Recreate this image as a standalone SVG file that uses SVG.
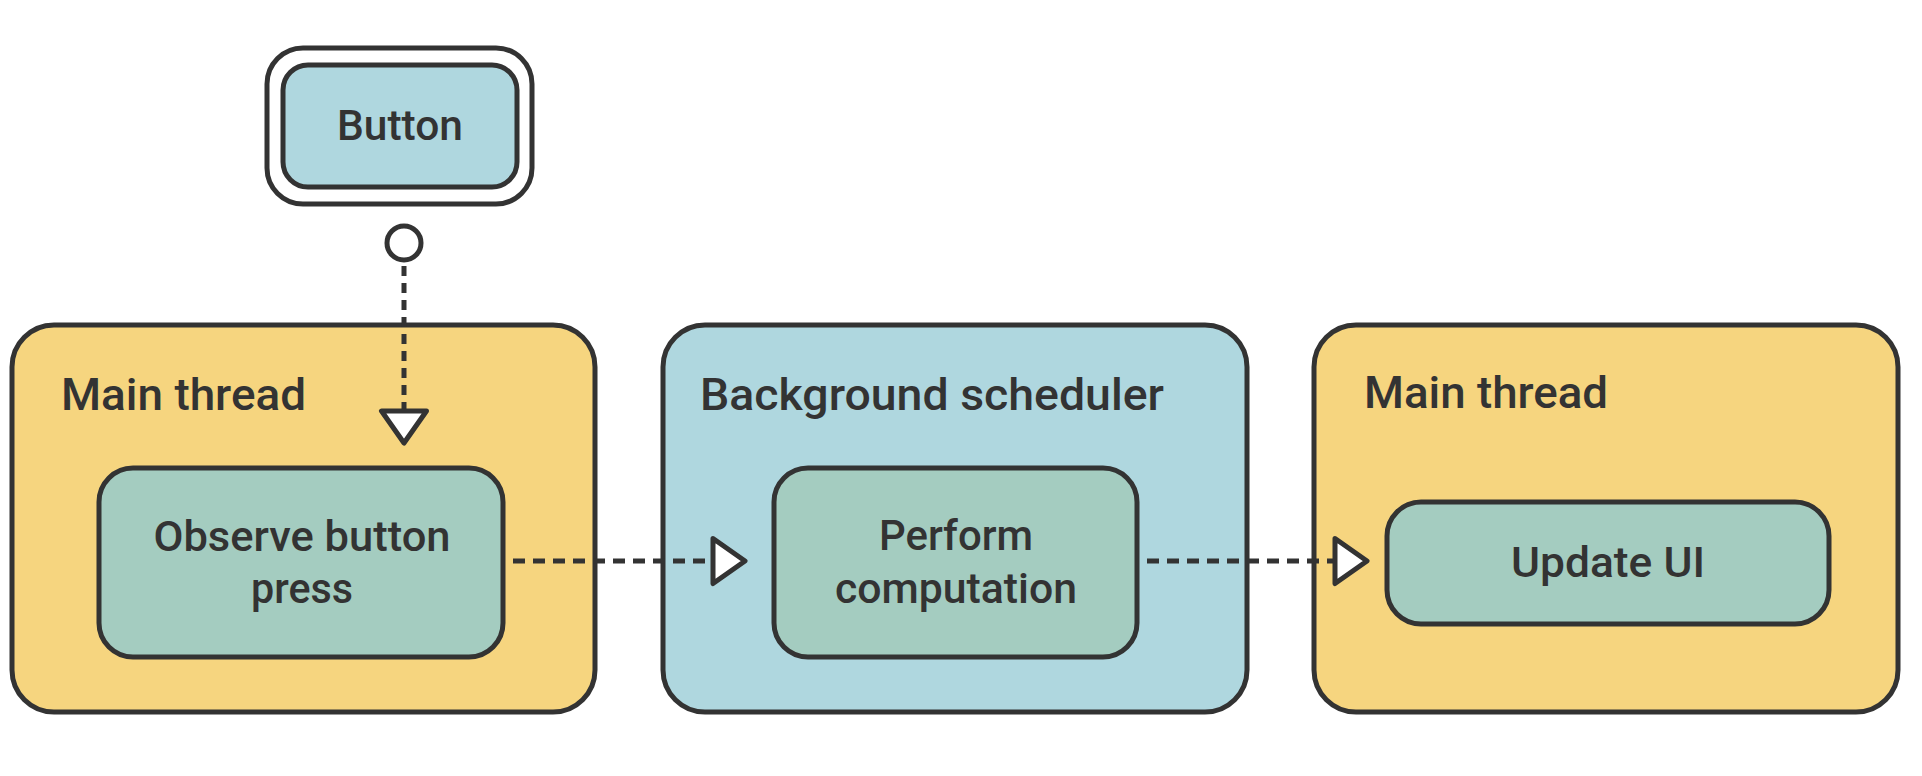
<svg xmlns="http://www.w3.org/2000/svg" width="1922" height="776" viewBox="0 0 1922 776">
  <style>
    .box { stroke: #333333; stroke-width: 5; }
    .yellow { fill: #F6D57F; }
    .blue { fill: #AFD7DF; }
    .green { fill: #A4CCC0; }
    .title { font-family: Roboto, "Noto Sans", sans-serif; font-size: 45px; font-weight: 500; fill: #333333; }
    .label { font-family: Roboto, "Noto Sans", sans-serif; font-size: 42px; font-weight: 500; fill: #333333; text-anchor: middle; }
    .conn { fill: none; stroke: #333333; stroke-width: 5; }
    .h { stroke-dasharray: 12 8; }
    .v { stroke-dasharray: 10 7; }
  </style>
  <defs>
    <marker id="tri" markerUnits="userSpaceOnUse" viewBox="-4 -28 40 56" markerWidth="40" markerHeight="56" refX="32" refY="0" orient="auto" overflow="visible">
      <path d="M0,-22.5 L32,0 L0,22.5 Z" fill="#ffffff" stroke="#333333" stroke-width="5" stroke-linejoin="round"/>
    </marker>
  </defs>
  <rect width="1922" height="776" fill="#ffffff"/>

  <g id="button">
    <rect x="267" y="48" width="265" height="156" rx="36" fill="#ffffff" class="box"/>
    <rect x="283" y="65" width="234" height="122" rx="25" class="box blue"/>
    <text x="400" y="140" class="label" textLength="126" lengthAdjust="spacingAndGlyphs">Button</text>
  </g>

  <g id="main-thread-1">
    <rect x="12" y="325" width="583" height="387" rx="42" class="box yellow"/>
    <text x="61" y="410" class="title" textLength="245" lengthAdjust="spacingAndGlyphs">Main thread</text>
  </g>
  <g id="observe">
    <rect x="99" y="468" width="404" height="189" rx="34" class="box green"/>
    <text x="302" y="551" class="label" textLength="297" lengthAdjust="spacingAndGlyphs">Observe button</text>
    <text x="302" y="603" class="label" textLength="102" lengthAdjust="spacingAndGlyphs">press</text>
  </g>

  <g id="background-scheduler">
    <rect x="663" y="325" width="584" height="387" rx="42" class="box blue"/>
    <text x="700" y="410" class="title" textLength="464" lengthAdjust="spacingAndGlyphs">Background scheduler</text>
  </g>
  <g id="perform">
    <rect x="774" y="468" width="363" height="189" rx="34" class="box green"/>
    <text x="956" y="550" class="label" textLength="154" lengthAdjust="spacingAndGlyphs">Perform</text>
    <text x="956" y="603" class="label" textLength="242" lengthAdjust="spacingAndGlyphs">computation</text>
  </g>

  <g id="main-thread-2">
    <rect x="1314" y="325" width="584" height="387" rx="42" class="box yellow"/>
    <text x="1364" y="408" class="title" textLength="244" lengthAdjust="spacingAndGlyphs">Main thread</text>
  </g>
  <g id="update-ui">
    <rect x="1387" y="502" width="442" height="122" rx="34" class="box green"/>
    <text x="1608" y="577" class="label" textLength="194" lengthAdjust="spacingAndGlyphs">Update UI</text>
  </g>

  <g id="connectors">
    <circle cx="404" cy="243" r="17" fill="#ffffff" stroke="#333333" stroke-width="5"/>
    <line x1="404" y1="266" x2="404" y2="443" class="conn v" marker-end="url(#tri)"/>
    <line x1="513" y1="561" x2="745" y2="561" class="conn h" marker-end="url(#tri)"/>
    <line x1="1147" y1="561" x2="1367" y2="561" class="conn h" marker-end="url(#tri)"/>
  </g>
</svg>
